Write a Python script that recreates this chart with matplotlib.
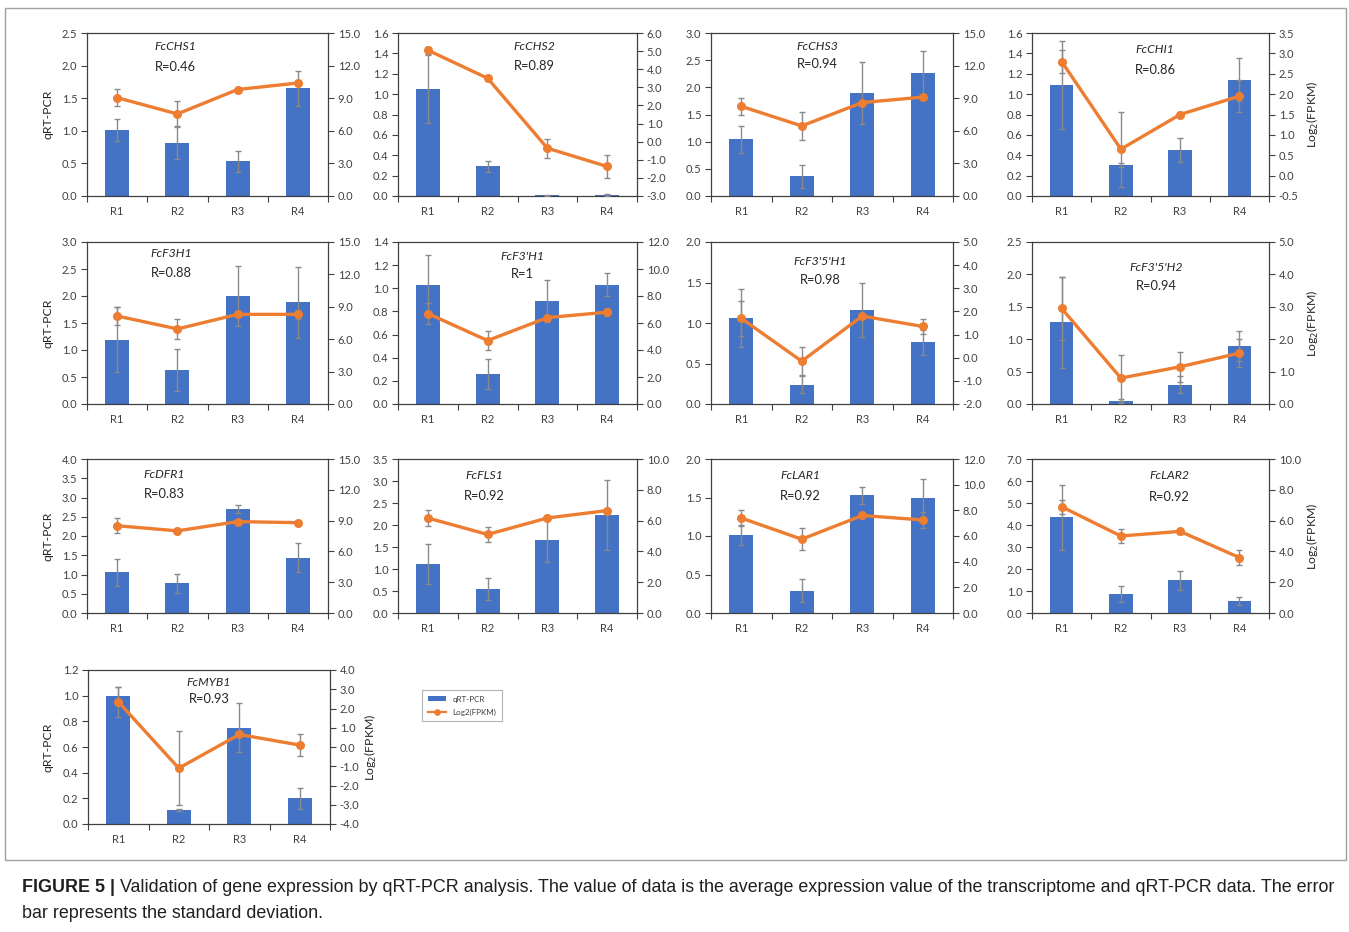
import matplotlib
matplotlib.use('Agg')
import matplotlib.pyplot as plt
import numpy as np
from matplotlib.patches import Rectangle
from matplotlib.lines import Line2D
from matplotlib.patches import Patch

plt.rcParams['font.family'] = ['Lato', 'DejaVu Sans']

# ---------------- data ----------------
categories = ['R1', 'R2', 'R3', 'R4']
genes = ['FcCHS1', 'FcCHS2', 'FcCHS3', 'FcCHI1',
         'FcF3H1', "FcF3'H1", "FcF3'5'H1", "FcF3'5'H2",
         'FcDFR1', 'FcFLS1', 'FcLAR1', 'FcLAR2', 'FcMYB1']
r_values = ['0.46', '0.89', '0.94', '0.86', '0.88', '1', '0.98', '0.94',
            '0.83', '0.92', '0.92', '0.92', '0.93']

qpcr_mean = [
    [1.01, 0.82, 0.53, 1.65],
    [1.05, 0.29, 0.005, 0.01],
    [1.04, 0.36, 1.90, 2.26],
    [1.09, 0.30, 0.45, 1.14],
    [1.19, 0.63, 2.00, 1.88],
    [1.03, 0.26, 0.89, 1.03],
    [1.06, 0.24, 1.16, 0.76],
    [1.26, 0.04, 0.30, 0.90],
    [1.06, 0.77, 2.71, 1.44],
    [1.11, 0.54, 1.65, 2.23],
    [1.01, 0.29, 1.53, 1.49],
    [4.35, 0.85, 1.48, 0.55],
    [1.00, 0.11, 0.75, 0.20],
]
qpcr_sd = [
    [0.17, 0.26, 0.16, 0.27],
    [0.33, 0.05, 0.004, 0.006],
    [0.25, 0.21, 0.57, 0.40],
    [0.43, 0.02, 0.12, 0.21],
    [0.60, 0.39, 0.55, 0.66],
    [0.26, 0.13, 0.18, 0.10],
    [0.36, 0.11, 0.33, 0.15],
    [0.70, 0.03, 0.13, 0.23],
    [0.35, 0.25, 0.10, 0.37],
    [0.45, 0.25, 0.50, 0.79],
    [0.13, 0.15, 0.11, 0.25],
    [1.48, 0.36, 0.43, 0.17],
    [0.07, 0.01, 0.19, 0.08],
]
fpkm_mean = [
    [9.05, 7.55, 9.80, 10.40],
    [5.05, 3.50, -0.36, -1.37],
    [8.25, 6.45, 8.60, 9.10],
    [2.80, 0.65, 1.50, 1.95],
    [8.15, 6.95, 8.30, 8.30],
    [6.70, 4.70, 6.40, 6.80],
    [1.70, -0.15, 1.80, 1.35],
    [2.95, 0.80, 1.15, 1.57],
    [8.50, 8.00, 8.90, 8.80],
    [6.17, 5.10, 6.17, 6.65],
    [7.40, 5.75, 7.60, 7.25],
    [6.90, 5.00, 5.30, 3.60],
    [2.35, -1.10, 0.65, 0.10],
]
fpkm_sd = [
    [0.80, 1.20, 0.15, 0.20],
    [0.20, 0.08, 0.53, 0.62],
    [0.75, 1.30, 0.10, 0.10],
    [0.28, 0.92, 0.05, 0.40],
    [0.80, 0.95, 0.10, 0.45],
    [0.80, 0.70, 0.10, 0.30],
    [0.77, 0.60, 0.10, 0.33],
    [0.97, 0.72, 0.47, 0.43],
    [0.75, 0.10, 0.10, 0.20],
    [0.50, 0.50, 0.10, 0.10],
    [0.60, 0.85, 0.10, 0.60],
    [0.46, 0.43, 0.14, 0.48],
    [0.77, 1.93, 0.10, 0.57],
]
# axis ranges: (min, max, step)
left_axis = [(0, 2.5, 0.5), (0, 1.6, 0.2), (0, 3.0, 0.5), (0, 1.6, 0.2),
             (0, 3.0, 0.5), (0, 1.4, 0.2), (0, 2.0, 0.5), (0, 2.5, 0.5),
             (0, 4.0, 0.5), (0, 3.5, 0.5), (0, 2.0, 0.5), (0, 7.0, 1.0),
             (0, 1.2, 0.2)]
right_axis = [(0, 15, 3), (-3, 6, 1), (0, 15, 3), (-0.5, 3.5, 0.5),
              (0, 15, 3), (0, 12, 2), (-2, 5, 1), (0, 5, 1),
              (0, 15, 3), (0, 10, 2), (0, 12, 2), (0, 10, 2),
              (-4, 4, 1)]

# ---------------- layout (pixels) ----------------
W, H = 1349, 932
rows = [(33, 196), (242, 404), (459, 613), (670, 824)]
cols = [(87, 328), (398, 637), (711, 953), (1032, 1269)]
panel_rc = [(0, 0), (0, 1), (0, 2), (0, 3),
            (1, 0), (1, 1), (1, 2), (1, 3),
            (2, 0), (2, 1), (2, 2), (2, 3),
            (3, 0)]
# label positions (axes fraction): gene name x, gene y, R y
label_pos = [(0.365, 0.92, 0.79), (0.57, 0.92, 0.80), (0.44, 0.92, 0.81),
             (0.52, 0.90, 0.77), (0.35, 0.93, 0.81), (0.52, 0.91, 0.80),
             (0.45, 0.88, 0.765), (0.525, 0.84, 0.73), (0.32, 0.90, 0.77),
             (0.36, 0.89, 0.76), (0.37, 0.89, 0.76), (0.58, 0.89, 0.755),
             (0.50, 0.92, 0.81)]

BLUE = '#4472C4'
ORANGE = '#ED7D31'
GRAY = '#8a8a8a'
TXT = '#404040'
SPINE = '#404040'
TICK_FS = 8

fig = plt.figure(figsize=(W / 100, H / 100), dpi=100)
fig.patch.set_facecolor('white')

# outer frame
fig.patches.append(Rectangle((5 / W, 1 - 860 / H), (1346 - 5) / W, (860 - 8) / H,
                             transform=fig.transFigure, fill=False,
                             edgecolor='#a0a0a0', linewidth=1.0))


def px_rect(l, t, r, b):
    return [l / W, 1 - b / H, (r - l) / W, (b - t) / H]


x = np.arange(len(categories))
for i, g in enumerate(genes):
    ri, ci = panel_rc[i]
    t, b = rows[ri]
    l, r = cols[ci]
    if i == 12:
        l, r = 88, 330
    ax = fig.add_axes(px_rect(l, t, r, b))
    ax.bar(x, qpcr_mean[i], width=0.4, color=BLUE, zorder=2,
           yerr=qpcr_sd[i],
           error_kw=dict(ecolor=GRAY, elinewidth=1.0, capsize=2, capthick=1.0, zorder=3))
    lo, hi, st = left_axis[i]
    ax.set_ylim(lo, hi)
    ax.set_yticks(np.arange(lo, hi + st / 2, st))
    ax.set_yticklabels([f'{v:.1f}' for v in np.arange(lo, hi + st / 2, st)])
    ax.set_xlim(-0.5, 3.5)
    ax.set_xticks([-0.5, 0.5, 1.5, 2.5, 3.5])
    ax.set_xticklabels([])
    ax.set_xticks(x, minor=True)
    ax.set_xticklabels(categories, minor=True)
    ax.tick_params(axis='x', which='major', direction='out', length=4, color=SPINE, width=0.8)
    ax.tick_params(axis='x', which='minor', length=0, labelsize=TICK_FS, labelcolor=TXT, pad=7.5)
    ax.tick_params(axis='y', direction='out', length=4, color=SPINE, width=0.8,
                   labelsize=TICK_FS, labelcolor=TXT, pad=3)
    for s in ax.spines.values():
        s.set_color(SPINE)
        s.set_linewidth(0.9)
    ax.spines['right'].set_visible(False)

    ax2 = ax.twinx()
    ax2.errorbar(x, fpkm_mean[i], yerr=fpkm_sd[i], color=ORANGE, lw=2.4,
                 marker='o', ms=5.5, ecolor=GRAY, elinewidth=1.0, capsize=2,
                 capthick=1.0, zorder=4)
    lo2, hi2, st2 = right_axis[i]
    ax2.set_ylim(lo2, hi2)
    tv = np.arange(lo2, hi2 + st2 / 2, st2)
    ax2.set_yticks(tv)
    ax2.set_yticklabels([f'{v:.1f}' for v in tv])
    ax2.tick_params(axis='y', direction='out', length=4, color=SPINE, width=0.8,
                    labelsize=TICK_FS, labelcolor=TXT, pad=3)
    for nm, s in ax2.spines.items():
        if nm == 'right':
            s.set_color(SPINE)
            s.set_linewidth(0.9)
        else:
            s.set_visible(False)

    gx, gy, ry = label_pos[i]
    ax.text(gx, gy, g, transform=ax.transAxes, ha='center', va='center',
            fontsize=8.8, style='italic', color='#262626')
    ax.text(gx, ry, 'R=' + r_values[i], transform=ax.transAxes, ha='center',
            va='center', fontsize=9.3, color='#262626')

    if ci == 0:
        fig.text(48 / W, 1 - (t + b) / 2 / H, 'qRT-PCR', rotation=90,
                 ha='center', va='center', fontsize=8.8, color='#262626')
    if ci == 3 or i == 12:
        xr = 1313 if ci == 3 else 371
        fig.text(xr / W, 1 - (t + b) / 2 / H, 'Log$_2$(FPKM)', rotation=90,
                 ha='center', va='center', fontsize=8.8, color='#262626')

# legend
handles = [Patch(facecolor=BLUE, edgecolor='none'),
           Line2D([0], [0], color=ORANGE, lw=1.6, marker='o', ms=3.8)]
leg = fig.legend(handles, ['qRT-PCR', 'Log2(FPKM)'], loc='upper left',
                 bbox_to_anchor=(422 / W, 1 - 690 / H), fontsize=5.8,
                 frameon=True, fancybox=False, edgecolor='#a0a0a0',
                 borderaxespad=0, handlelength=2.3, handleheight=0.5,
                 labelspacing=0.75, borderpad=0.7)
leg.get_frame().set_linewidth(0.8)
for tx in leg.get_texts():
    tx.set_color(TXT)

# caption
cap_fs = 12.9
fig.canvas.draw()
renderer = fig.canvas.get_renderer()
t1 = fig.text(22 / W, 1 - 887 / H, 'FIGURE 5 |', fontsize=cap_fs, fontweight='bold',
              family='Liberation Sans', ha='left', va='center', color='#231f20')
bb = t1.get_window_extent(renderer=renderer)
fig.text((bb.x1 + 5) / W, 1 - 887 / H,
         'Validation of gene expression by qRT-PCR analysis. The value of data is the average '
         'expression value of the transcriptome and qRT-PCR data. The error',
         fontsize=cap_fs, family='Liberation Sans', ha='left', va='center', color='#231f20')
fig.text(22 / W, 1 - 913 / H, 'bar represents the standard deviation.',
         fontsize=cap_fs, family='Liberation Sans', ha='left', va='center', color='#231f20')

fig.savefig('out.png', dpi=100)
